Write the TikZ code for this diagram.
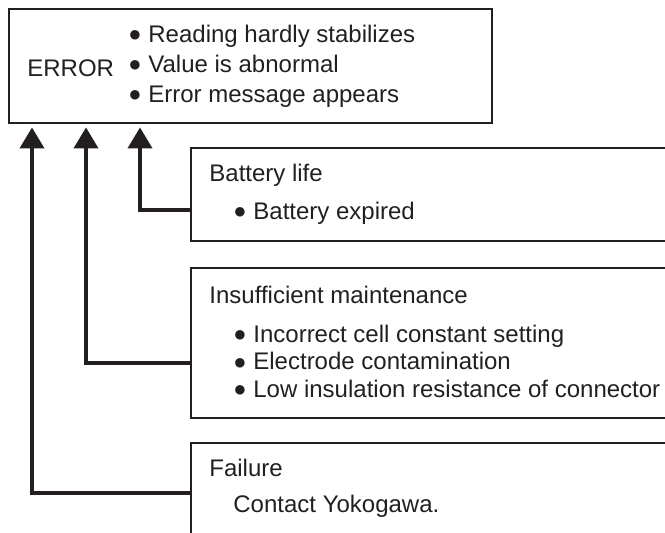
\documentclass[tikz,border=0pt]{standalone}
\usepackage{fontspec}
\setmainfont{Liberation Sans}
\usetikzlibrary{arrows.meta}

\definecolor{ink}{HTML}{231F20}
\newcommand{\bul}{\makebox[10pt][l]{\raisebox{0.2pt}{\fontsize{11}{11}\selectfont ●}}}

\begin{document}
\begin{tikzpicture}[
    x=0.5pt, y=-0.5pt,
    box/.style={rectangle, draw=ink, line width=1pt, anchor=north west, minimum width=250pt, inner sep=0pt},
    errbox/.style={box, line width=1.2pt, minimum width=241.5pt, minimum height=57pt},
    txt/.style={anchor=west, inner sep=0pt, align=left, text=ink, font=\fontsize{12}{13.75}\selectfont},
    toptxt/.style={txt, font=\fontsize{12}{15}\selectfont},
    lead/.style={draw=ink, line width=1.9pt, -{Triangle[width=12pt, length=10.5pt]}, shorten >=1.5pt}
]
    \useasboundingbox (0,0) rectangle (665,533);
    \clip (0,0) rectangle (665,533);

    % Error display
    \node[errbox] (err) at (8,8) {};
    \node[toptxt] (errlbl) at (27,68) {ERROR};
    \node[toptxt] (errlist) at (128,66) {\bul Reading hardly stabilizes\\
        \bul Value is abnormal\\
        \bul Error message appears};

    % Causes
    \node[box, minimum height=46.5pt] (batt) at (190,147) {};
    \node[txt] (battT) at (209,175) {Battery life};
    \node[txt] (battL) at (233,213) {\bul Battery expired};

    \node[box, minimum height=75pt] (maint) at (190,267) {};
    \node[txt] (maintT) at (209,295) {Insufficient maintenance};
    \node[txt] (maintL) at (233,361) {\bul Incorrect cell constant setting\\
        \bul Electrode contamination\\
        \bul Low insulation resistance of connector};

    \node[box, minimum height=60pt] (fail) at (190,442) {};
    \node[txt] (failT) at (209,468) {Failure};
    \node[txt] (failL) at (233,506) {Contact Yokogawa.};

    % Leads to the error display
    \draw[lead] ([yshift=-31.5pt]batt.north west) -| ([xshift=66pt]err.south west);
    \draw[lead] ([yshift=-48pt]maint.north west) -| ([xshift=39pt]err.south west);
    \draw[lead] ([yshift=-25.5pt]fail.north west) -| ([xshift=12pt]err.south west);

\end{tikzpicture}
\end{document}
